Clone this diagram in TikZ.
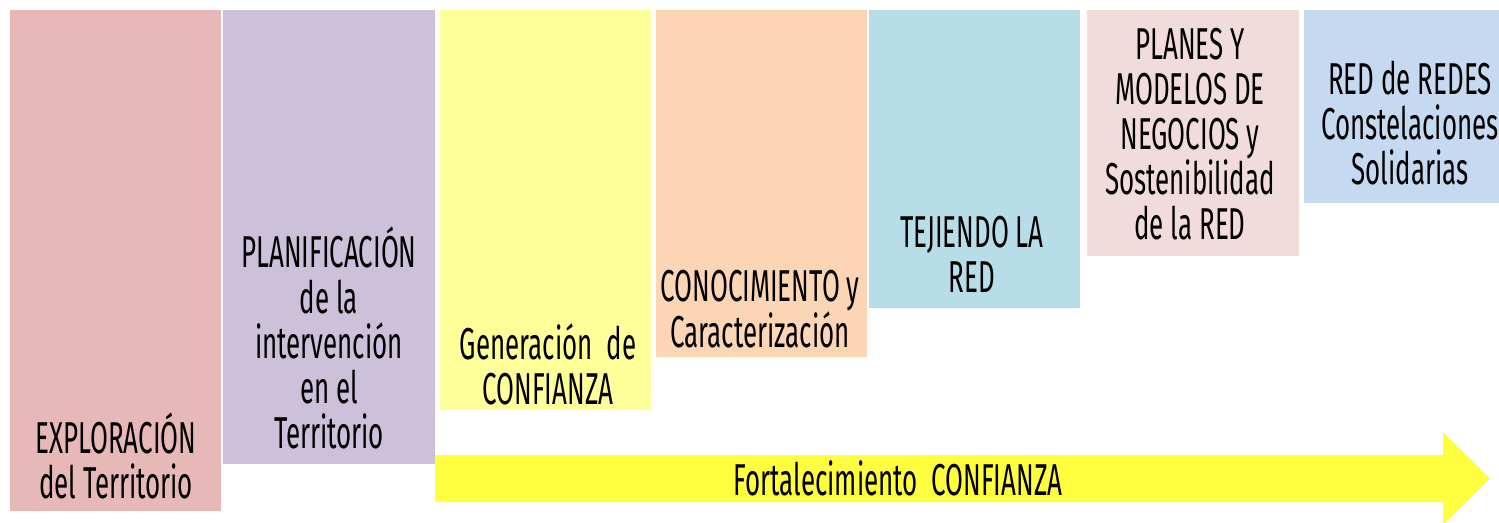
\documentclass[tikz,border=0pt]{standalone}
\usepackage{fontspec}
\setmainfont{Fira Sans}[FakeStretch=0.58]
\definecolor{cA}{HTML}{E6B8B7}
\definecolor{cB}{HTML}{CCC0DA}
\definecolor{cC}{HTML}{FFFF99}
\definecolor{cD}{HTML}{FCD5B4}
\definecolor{cE}{HTML}{B7DEE8}
\definecolor{cF}{HTML}{F2DCDB}
\definecolor{cG}{HTML}{C5D9F1}
\definecolor{cArrow}{HTML}{FFFF40}
\tikzset{
  phase/.style={draw=none, inner sep=0pt, outer sep=0pt},
  lbl/.style={align=center, inner sep=0pt, text=black, font=\fontsize{33.5}{33.8}\selectfont},
}
\begin{document}
\begin{tikzpicture}[x=0.75pt, y=-0.75pt]
\useasboundingbox (0,0) rectangle (1499,522);
\fill[white] (0,0) rectangle (1499,522);
% boxes
\path[phase, fill=cA] (10,10) rectangle (221,511) node[pos=0.5, inner sep=0pt] (b1) {};
\path[phase, fill=cB] (223,10) rectangle (435,464) node[pos=0.5, inner sep=0pt] (b2) {};
\path[phase, fill=cC] (440,10) rectangle (651,410) node[pos=0.5, inner sep=0pt] (b3) {};
\path[phase, fill=cD] (656,10) rectangle (867,357) node[pos=0.5, inner sep=0pt] (b4) {};
\path[phase, fill=cE] (869,10) rectangle (1080,308) node[pos=0.5, inner sep=0pt] (b5) {};
\path[phase, fill=cF] (1087,10) rectangle (1299,256) node[pos=0.5, inner sep=0pt] (b6) {};
\path[phase, fill=cG] (1304,10) rectangle (1499,203) node[pos=0.5, inner sep=0pt] (b7) {};
% arrow
\fill[cArrow] (435,455) -- (1443,455) -- (1443,432) -- (1490,478.5) -- (1443,525) -- (1443,502) -- (435,502) -- cycle;
% labels
\node[lbl] (t1) at (116,456) {EXPLORACIÓN\\del Territorio};
\node[lbl] (t2) at (329,338) {PLANIFICACIÓN\\de la\\intervención\\en el\\Territorio};
\node[lbl] (t3) at (548,364) {Generación~~de\\CONFIANZA};
\node[lbl] (t4) at (760,309) {CONOCIMIENTO y\\Caracterización};
\node[lbl] (t5) at (972,254) {TEJIENDO LA\\RED};
\node[lbl] (t6) at (1190,134) {PLANES Y\\MODELOS DE\\NEGOCIOS y\\Sostenibilidad\\de la RED};
\node[lbl] (t7) at (1410,123) {RED de REDES\\Constelaciones\\Solidarias};
\node[lbl] (t8) at (898,478) {Fortalecimiento~~CONFIANZA};
\end{tikzpicture}
\end{document}
